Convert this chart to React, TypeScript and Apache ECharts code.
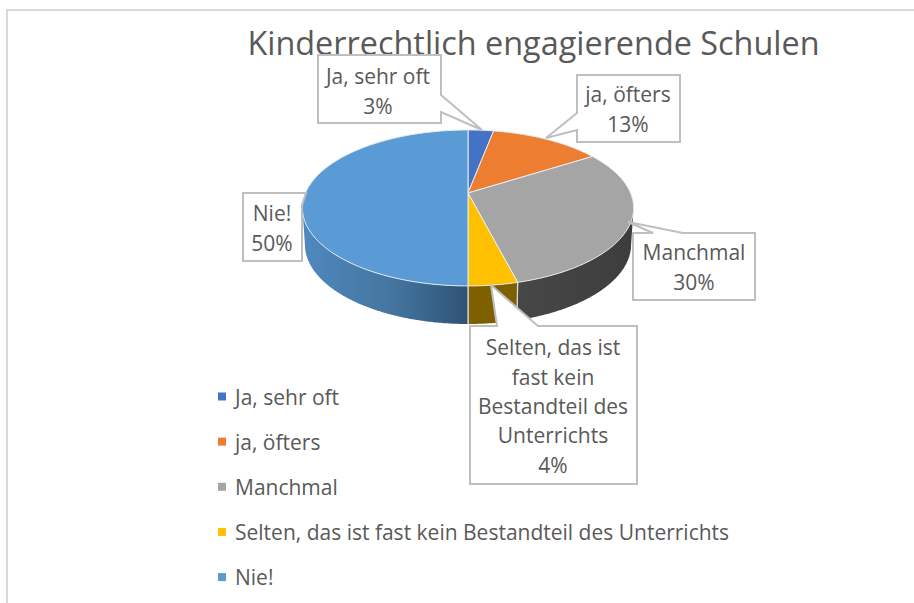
import React, { useEffect, useRef } from "react";
import * as echarts from "echarts";

const titleText = "Kinderrechtlich engagierende Schulen";
const categories = ["Ja, sehr oft", "ja, öfters", "Manchmal", "Selten, das ist fast kein Bestandteil des Unterrichts", "Nie!"];
const values = [3, 13, 30, 4, 50];
const topColors = ["#4472c4", "#ed7d31", "#a5a5a5", "#ffc000", "#5b9bd5"];
const wrappedNames = ["Ja, sehr oft", "ja, öfters", "Manchmal", "Selten, das ist\nfast kein\nBestandteil des\nUnterrichts", "Nie!"];

const FONT = '"Open Sans", "Noto Sans", sans-serif';
const TEXT = "#595959";
const CX = 468, CY = 193, A = 162.5, B = 75.1, K = 0.192, DEPTH = 36.5;

const project = (deg: number) => {
  const t = (deg * Math.PI) / 180;
  const w = 1 + K * Math.cos(t);
  return [CX + (A * Math.sin(t)) / w, CY - (B * Math.cos(t)) / w];
};
const lower = (p: number[]) => [CX + 0.985 * (p[0] - CX), p[1] + DEPTH + 0.02 * (p[1] - 208)];
const TAN = (Math.acos(-K) * 180) / Math.PI;

const sideFills: any[] = [
  "#2f4f7a",
  "#8a4a1c",
  { type: "linear", x: 0, y: 0, x2: 1, y2: 0, colorStops: [{ offset: 0, color: "#474747" }, { offset: 1, color: "#3d3d3d" }] },
  "#7f6000",
  { type: "linear", x: 0, y: 0, x2: 1, y2: 0, colorStops: [{ offset: 0, color: "#4f89bf" }, { offset: 0.55, color: "#44759f" }, { offset: 1, color: "#2f5274" }] },
];

const arc = (from: number, to: number) => {
  const pts: number[][] = [];
  const n = Math.max(2, Math.ceil((to - from) * 2));
  for (let i = 0; i <= n; i++) pts.push(project(from + ((to - from) * i) / n));
  return pts;
};

const makeRender = (idx: number) => (_p: any, api: any) => {
  const a = (api.value(0) / 100) * 360;
  const b = (api.value(1) / 100) * 360;
  const children: any[] = [];
  const sa = Math.max(a, TAN);
  const sb = Math.min(b, 360 - TAN);
  if (sb > sa) {
    const rim = arc(sa, sb);
    const low = rim.map(lower).reverse();
    children.push({
      type: "polygon",
      shape: { points: rim.concat(low) },
      style: { fill: sideFills[idx], stroke: "none" },
    });
    [a, b].forEach((d) => {
      if (d >= TAN && d <= 360 - TAN) {
        const p = project(d);
        const q = lower(p);
        children.push({
          type: "line",
          shape: { x1: p[0], y1: p[1], x2: q[0], y2: q[1] },
          style: { stroke: "#dcdcdc", lineWidth: 1.2 },
        });
      }
    });
  }
  children.push({
    type: "polygon",
    shape: { points: [[CX, CY] as number[]].concat(arc(a, b)) },
    style: { fill: topColors[idx], stroke: "#e6edf3", lineWidth: 1 },
  });
  return { type: "group", children };
};

const callouts = [
  { points: [[318, 55], [441, 55], [441, 95], [482, 130], [441, 112], [441, 123], [318, 123]], x: 378, y: 91 },
  { points: [[577, 75], [680, 75], [680, 142], [577, 142], [577, 130], [546, 138], [577, 113]], x: 628, y: 109 },
  { points: [[633, 233], [653, 233], [628, 222], [683, 233], [755, 233], [755, 300], [633, 300]], x: 694, y: 267 },
  { points: [[470, 326], [497, 326], [491, 285], [538, 326], [637, 326], [637, 484], [470, 484]], x: 553, y: 406 },
  { points: [[243, 193], [297, 193], [306, 193], [302, 205], [302, 261], [243, 261]], x: 272, y: 228 },
];

export default function App() {
  const ref = useRef<HTMLDivElement>(null);
  useEffect(() => {
    const chart = echarts.init(ref.current!, null, { renderer: "svg" });
    let cum = 0;
    const series = categories.map((name, i) => {
      const start = cum;
      cum += values[i];
      return {
        type: "custom",
        name,
        coordinateSystem: "none",
        silent: true,
        itemStyle: { color: topColors[i] },
        data: [[start, cum]],
        renderItem: makeRender(i),
      };
    });
    const graphic: any[] = [
      { type: "line", z: 1, shape: { x1: 6, y1: 10, x2: 914, y2: 10 }, style: { stroke: "#d9d9d9", lineWidth: 2 } },
      { type: "line", z: 1, shape: { x1: 7, y1: 10, x2: 7, y2: 603 }, style: { stroke: "#d9d9d9", lineWidth: 2 } },
    ];
    callouts.forEach((c, i) => {
      graphic.push({
        type: "polygon",
        z: 100,
        shape: { points: c.points },
        style: { fill: "#ffffff", stroke: "#bfbfbf", lineWidth: 2 },
      });
      graphic.push({
        type: "text",
        z: 101,
        x: c.x,
        y: c.y,
        style: {
          text: `${wrappedNames[i]}\n${values[i]}%`,
          font: `21px ${FONT}`,
          fill: TEXT,
          align: "center",
          verticalAlign: "middle",
          lineHeight: 29.4,
        },
      });
    });
    chart.setOption({
      animation: false,
      backgroundColor: "#ffffff",
      title: {
        text: titleText,
        left: 528.5,
        top: 21,
        textAlign: "center",
        textStyle: { fontFamily: FONT, fontSize: 32.4, fontWeight: "normal", color: TEXT },
      },
      legend: {
        orient: "vertical",
        left: 218,
        top: 386,
        padding: 0,
        icon: "rect",
        itemWidth: 8,
        itemHeight: 8,
        itemGap: 24.15,
        data: categories,
        textStyle: { fontFamily: FONT, fontSize: 21, color: TEXT, lineHeight: 20, padding: [0, 0, 0, 4] },
      },
      series,
      graphic,
    } as any);
    return () => chart.dispose();
  }, []);
  return <div ref={ref} style={{ position: "fixed", left: 0, top: 0, width: 914, height: 603 }} />;
}
